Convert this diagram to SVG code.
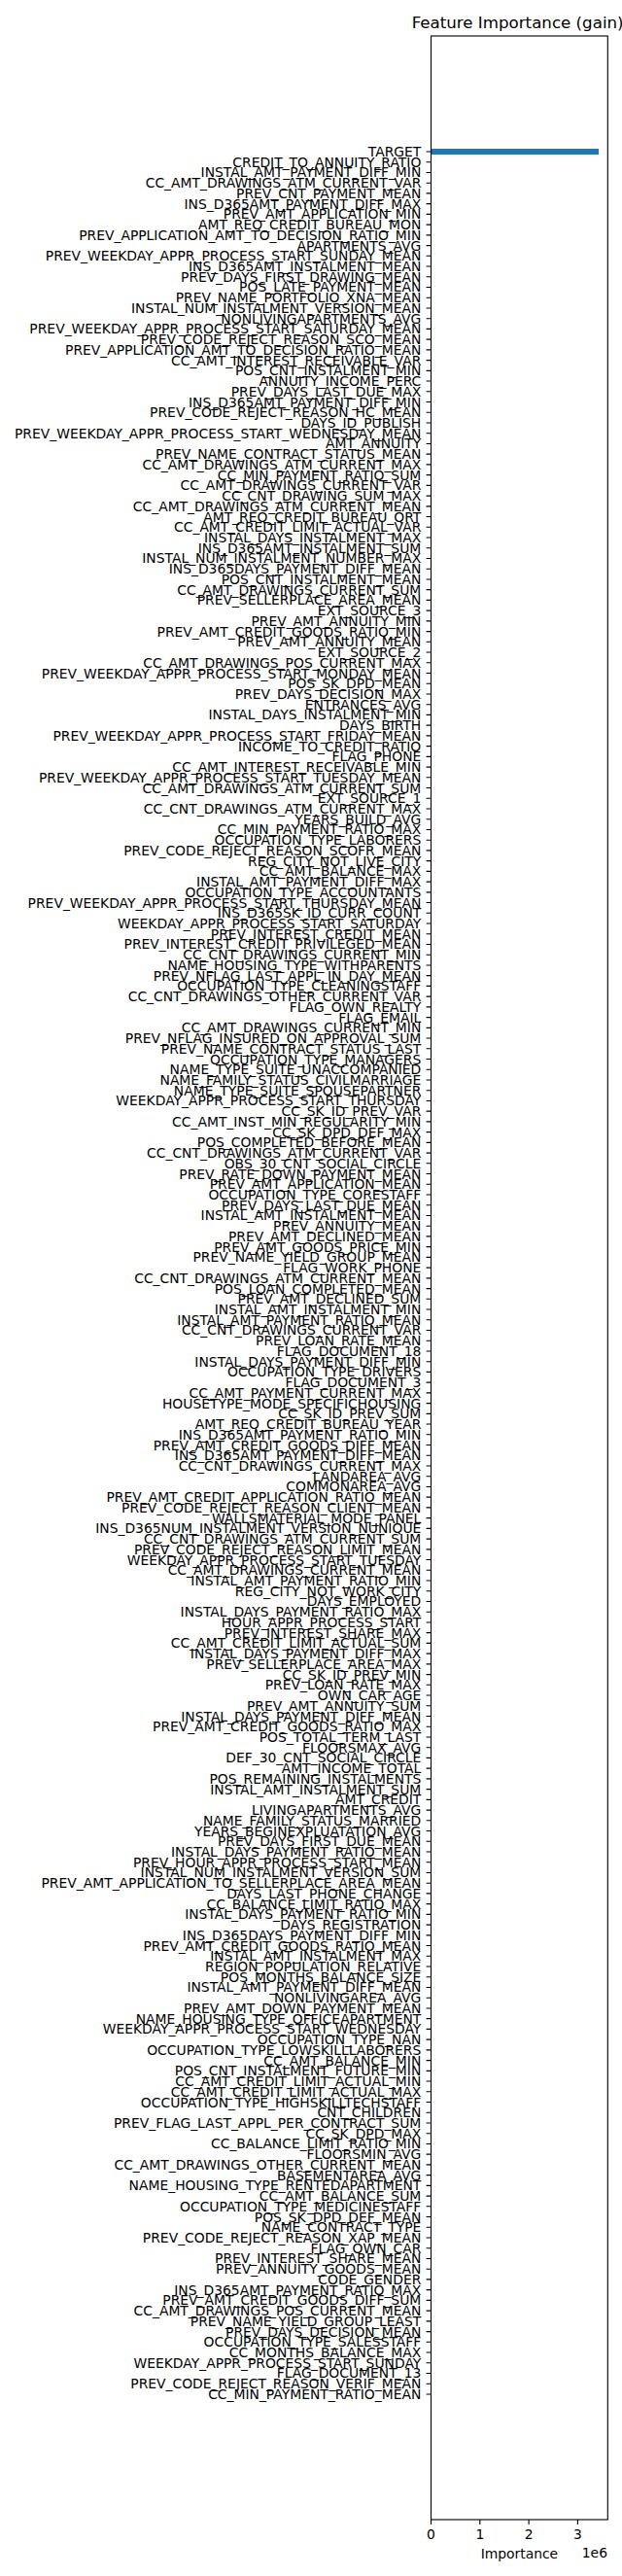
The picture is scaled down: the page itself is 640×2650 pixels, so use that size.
<svg xmlns="http://www.w3.org/2000/svg" width="640" height="2650" viewBox="0 0 640 2650">
<style>
text{font-family:"DejaVu Sans","Liberation Sans",sans-serif;fill:#000}
.yl{font-size:13.89px;text-anchor:end}
.xl{font-size:13.89px;text-anchor:middle}
.ttl{font-size:16.67px;text-anchor:middle}
.ax{fill:none;stroke:#000;stroke-width:1.11}
</style>
<rect width="640" height="2650" fill="#fff"/>
<g id="plot">
<rect id="bar-target" x="443.5" y="153" width="172.5" height="6" fill="#1f77b4"/>
<rect id="frame" class="ax" x="443.5" y="37" width="181.8" height="2555"/>
</g>
<text id="title" class="ttl" x="532.6" y="28.5">Feature Importance (gain)</text>
<g id="xaxis">
<path class="ax" d="M443.5,2592v4.9M493.8,2592v4.9M544.1,2592v4.9M594.4,2592v4.9"/>
<text class="xl" x="443.5" y="2612">0</text>
<text class="xl" x="493.8" y="2612">1</text>
<text class="xl" x="544.1" y="2612">2</text>
<text class="xl" x="594.4" y="2612">3</text>
<text class="xl" x="534.4" y="2632">Importance</text>
<text class="yl" x="625" y="2631">1e6</text>
</g>
<g id="yticks" transform="translate(0,156)">
<path class="ax" d="M438.6,0h4.9M438.6,10.73h4.9M438.6,21.46h4.9M438.6,32.19h4.9M438.6,42.92h4.9M438.6,53.65h4.9M438.6,64.38h4.9M438.6,75.11h4.9M438.6,85.84h4.9M438.6,96.57h4.9M438.6,107.3h4.9M438.6,118.03h4.9M438.6,128.76h4.9M438.6,139.49h4.9M438.6,150.22h4.9M438.6,160.95h4.9M438.6,171.68h4.9M438.6,182.41h4.9M438.6,193.14h4.9M438.6,203.87h4.9M438.6,214.6h4.9M438.6,225.33h4.9M438.6,236.06h4.9M438.6,246.79h4.9M438.6,257.52h4.9M438.6,268.25h4.9M438.6,278.98h4.9M438.6,289.71h4.9M438.6,300.44h4.9M438.6,311.17h4.9M438.6,321.9h4.9M438.6,332.63h4.9M438.6,343.36h4.9M438.6,354.09h4.9M438.6,364.82h4.9M438.6,375.55h4.9M438.6,386.28h4.9M438.6,397.01h4.9M438.6,407.74h4.9M438.6,418.47h4.9M438.6,429.2h4.9M438.6,439.93h4.9M438.6,450.66h4.9M438.6,461.39h4.9M438.6,472.12h4.9M438.6,482.85h4.9M438.6,493.58h4.9M438.6,504.31h4.9M438.6,515.04h4.9M438.6,525.77h4.9M438.6,536.5h4.9M438.6,547.23h4.9M438.6,557.96h4.9M438.6,568.69h4.9M438.6,579.42h4.9M438.6,590.15h4.9M438.6,600.88h4.9M438.6,611.61h4.9M438.6,622.34h4.9M438.6,633.07h4.9M438.6,643.8h4.9M438.6,654.53h4.9M438.6,665.26h4.9M438.6,675.99h4.9M438.6,686.72h4.9M438.6,697.45h4.9M438.6,708.18h4.9M438.6,718.91h4.9M438.6,729.64h4.9M438.6,740.37h4.9M438.6,751.1h4.9M438.6,761.83h4.9M438.6,772.56h4.9M438.6,783.29h4.9M438.6,794.02h4.9M438.6,804.75h4.9M438.6,815.48h4.9M438.6,826.21h4.9M438.6,836.94h4.9M438.6,847.67h4.9M438.6,858.4h4.9M438.6,869.13h4.9M438.6,879.86h4.9M438.6,890.59h4.9M438.6,901.32h4.9M438.6,912.05h4.9M438.6,922.78h4.9M438.6,933.51h4.9M438.6,944.24h4.9M438.6,954.97h4.9M438.6,965.7h4.9M438.6,976.43h4.9M438.6,987.16h4.9M438.6,997.89h4.9M438.6,1008.62h4.9M438.6,1019.35h4.9M438.6,1030.08h4.9M438.6,1040.81h4.9M438.6,1051.54h4.9M438.6,1062.27h4.9M438.6,1073h4.9M438.6,1083.73h4.9M438.6,1094.46h4.9M438.6,1105.19h4.9M438.6,1115.92h4.9M438.6,1126.65h4.9M438.6,1137.38h4.9M438.6,1148.11h4.9M438.6,1158.84h4.9M438.6,1169.57h4.9M438.6,1180.3h4.9M438.6,1191.03h4.9M438.6,1201.76h4.9M438.6,1212.49h4.9M438.6,1223.22h4.9M438.6,1233.95h4.9M438.6,1244.68h4.9M438.6,1255.41h4.9M438.6,1266.14h4.9M438.6,1276.87h4.9M438.6,1287.6h4.9M438.6,1298.33h4.9M438.6,1309.06h4.9M438.6,1319.79h4.9M438.6,1330.52h4.9M438.6,1341.25h4.9M438.6,1351.98h4.9M438.6,1362.71h4.9M438.6,1373.44h4.9M438.6,1384.17h4.9M438.6,1394.9h4.9M438.6,1405.63h4.9M438.6,1416.36h4.9M438.6,1427.09h4.9M438.6,1437.82h4.9M438.6,1448.55h4.9M438.6,1459.28h4.9M438.6,1470.01h4.9M438.6,1480.74h4.9M438.6,1491.47h4.9M438.6,1502.2h4.9M438.6,1512.93h4.9M438.6,1523.66h4.9M438.6,1534.39h4.9M438.6,1545.12h4.9M438.6,1555.85h4.9M438.6,1566.58h4.9M438.6,1577.31h4.9M438.6,1588.04h4.9M438.6,1598.77h4.9M438.6,1609.5h4.9M438.6,1620.23h4.9M438.6,1630.96h4.9M438.6,1641.69h4.9M438.6,1652.42h4.9M438.6,1663.15h4.9M438.6,1673.88h4.9M438.6,1684.61h4.9M438.6,1695.34h4.9M438.6,1706.07h4.9M438.6,1716.8h4.9M438.6,1727.53h4.9M438.6,1738.26h4.9M438.6,1748.99h4.9M438.6,1759.72h4.9M438.6,1770.45h4.9M438.6,1781.18h4.9M438.6,1791.91h4.9M438.6,1802.64h4.9M438.6,1813.37h4.9M438.6,1824.1h4.9M438.6,1834.83h4.9M438.6,1845.56h4.9M438.6,1856.29h4.9M438.6,1867.02h4.9M438.6,1877.75h4.9M438.6,1888.48h4.9M438.6,1899.21h4.9M438.6,1909.94h4.9M438.6,1920.67h4.9M438.6,1931.4h4.9M438.6,1942.13h4.9M438.6,1952.86h4.9M438.6,1963.59h4.9M438.6,1974.32h4.9M438.6,1985.05h4.9M438.6,1995.78h4.9M438.6,2006.51h4.9M438.6,2017.24h4.9M438.6,2027.97h4.9M438.6,2038.7h4.9M438.6,2049.43h4.9M438.6,2060.16h4.9M438.6,2070.89h4.9M438.6,2081.62h4.9M438.6,2092.35h4.9M438.6,2103.08h4.9M438.6,2113.81h4.9M438.6,2124.54h4.9M438.6,2135.27h4.9M438.6,2146h4.9M438.6,2156.73h4.9M438.6,2167.46h4.9M438.6,2178.19h4.9M438.6,2188.92h4.9M438.6,2199.65h4.9M438.6,2210.38h4.9M438.6,2221.11h4.9M438.6,2231.84h4.9M438.6,2242.57h4.9M438.6,2253.3h4.9M438.6,2264.03h4.9M438.6,2274.76h4.9M438.6,2285.49h4.9M438.6,2296.22h4.9M438.6,2306.95h4.9"/>
</g>
<g id="ylabels" transform="translate(433.3,161)">
<text class="yl" y="0">TARGET</text>
<text class="yl" y="10.73">CREDIT_TO_ANNUITY_RATIO</text>
<text class="yl" y="21.46">INSTAL_AMT_PAYMENT_DIFF_MIN</text>
<text class="yl" y="32.19">CC_AMT_DRAWINGS_ATM_CURRENT_VAR</text>
<text class="yl" y="42.92">PREV_CNT_PAYMENT_MEAN</text>
<text class="yl" y="53.65">INS_D365AMT_PAYMENT_DIFF_MAX</text>
<text class="yl" y="64.38">PREV_AMT_APPLICATION_MIN</text>
<text class="yl" y="75.11">AMT_REQ_CREDIT_BUREAU_MON</text>
<text class="yl" y="85.84">PREV_APPLICATION_AMT_TO_DECISION_RATIO_MIN</text>
<text class="yl" y="96.57">APARTMENTS_AVG</text>
<text class="yl" y="107.3">PREV_WEEKDAY_APPR_PROCESS_START_SUNDAY_MEAN</text>
<text class="yl" y="118.03">INS_D365AMT_INSTALMENT_MEAN</text>
<text class="yl" y="128.76">PREV_DAYS_FIRST_DRAWING_MEAN</text>
<text class="yl" y="139.49">POS_LATE_PAYMENT_MEAN</text>
<text class="yl" y="150.22">PREV_NAME_PORTFOLIO_XNA_MEAN</text>
<text class="yl" y="160.95">INSTAL_NUM_INSTALMENT_VERSION_MEAN</text>
<text class="yl" y="171.68">NONLIVINGAPARTMENTS_AVG</text>
<text class="yl" y="182.41">PREV_WEEKDAY_APPR_PROCESS_START_SATURDAY_MEAN</text>
<text class="yl" y="193.14">PREV_CODE_REJECT_REASON_SCO_MEAN</text>
<text class="yl" y="203.87">PREV_APPLICATION_AMT_TO_DECISION_RATIO_MEAN</text>
<text class="yl" y="214.6">CC_AMT_INTEREST_RECEIVABLE_VAR</text>
<text class="yl" y="225.33">POS_CNT_INSTALMENT_MIN</text>
<text class="yl" y="236.06">ANNUITY_INCOME_PERC</text>
<text class="yl" y="246.79">PREV_DAYS_LAST_DUE_MAX</text>
<text class="yl" y="257.52">INS_D365AMT_PAYMENT_DIFF_MIN</text>
<text class="yl" y="268.25">PREV_CODE_REJECT_REASON_HC_MEAN</text>
<text class="yl" y="278.98">DAYS_ID_PUBLISH</text>
<text class="yl" y="289.71">PREV_WEEKDAY_APPR_PROCESS_START_WEDNESDAY_MEAN</text>
<text class="yl" y="300.44">AMT_ANNUITY</text>
<text class="yl" y="311.17">PREV_NAME_CONTRACT_STATUS_MEAN</text>
<text class="yl" y="321.9">CC_AMT_DRAWINGS_ATM_CURRENT_MAX</text>
<text class="yl" y="332.63">CC_MIN_PAYMENT_RATIO_SUM</text>
<text class="yl" y="343.36">CC_AMT_DRAWINGS_CURRENT_VAR</text>
<text class="yl" y="354.09">CC_CNT_DRAWING_SUM_MAX</text>
<text class="yl" y="364.82">CC_AMT_DRAWINGS_ATM_CURRENT_MEAN</text>
<text class="yl" y="375.55">AMT_REQ_CREDIT_BUREAU_QRT</text>
<text class="yl" y="386.28">CC_AMT_CREDIT_LIMIT_ACTUAL_VAR</text>
<text class="yl" y="397.01">INSTAL_DAYS_INSTALMENT_MAX</text>
<text class="yl" y="407.74">INS_D365AMT_INSTALMENT_SUM</text>
<text class="yl" y="418.47">INSTAL_NUM_INSTALMENT_NUMBER_MAX</text>
<text class="yl" y="429.2">INS_D365DAYS_PAYMENT_DIFF_MEAN</text>
<text class="yl" y="439.93">POS_CNT_INSTALMENT_MEAN</text>
<text class="yl" y="450.66">CC_AMT_DRAWINGS_CURRENT_SUM</text>
<text class="yl" y="461.39">PREV_SELLERPLACE_AREA_MEAN</text>
<text class="yl" y="472.12">EXT_SOURCE_3</text>
<text class="yl" y="482.85">PREV_AMT_ANNUITY_MIN</text>
<text class="yl" y="493.58">PREV_AMT_CREDIT_GOODS_RATIO_MIN</text>
<text class="yl" y="504.31">PREV_AMT_ANNUITY_MEAN</text>
<text class="yl" y="515.04">EXT_SOURCE_2</text>
<text class="yl" y="525.77">CC_AMT_DRAWINGS_POS_CURRENT_MAX</text>
<text class="yl" y="536.5">PREV_WEEKDAY_APPR_PROCESS_START_MONDAY_MEAN</text>
<text class="yl" y="547.23">POS_SK_DPD_MEAN</text>
<text class="yl" y="557.96">PREV_DAYS_DECISION_MAX</text>
<text class="yl" y="568.69">ENTRANCES_AVG</text>
<text class="yl" y="579.42">INSTAL_DAYS_INSTALMENT_MIN</text>
<text class="yl" y="590.15">DAYS_BIRTH</text>
<text class="yl" y="600.88">PREV_WEEKDAY_APPR_PROCESS_START_FRIDAY_MEAN</text>
<text class="yl" y="611.61">INCOME_TO_CREDIT_RATIO</text>
<text class="yl" y="622.34">FLAG_PHONE</text>
<text class="yl" y="633.07">CC_AMT_INTEREST_RECEIVABLE_MIN</text>
<text class="yl" y="643.8">PREV_WEEKDAY_APPR_PROCESS_START_TUESDAY_MEAN</text>
<text class="yl" y="654.53">CC_AMT_DRAWINGS_ATM_CURRENT_SUM</text>
<text class="yl" y="665.26">EXT_SOURCE_1</text>
<text class="yl" y="675.99">CC_CNT_DRAWINGS_ATM_CURRENT_MAX</text>
<text class="yl" y="686.72">YEARS_BUILD_AVG</text>
<text class="yl" y="697.45">CC_MIN_PAYMENT_RATIO_MAX</text>
<text class="yl" y="708.18">OCCUPATION_TYPE_LABORERS</text>
<text class="yl" y="718.91">PREV_CODE_REJECT_REASON_SCOFR_MEAN</text>
<text class="yl" y="729.64">REG_CITY_NOT_LIVE_CITY</text>
<text class="yl" y="740.37">CC_AMT_BALANCE_MAX</text>
<text class="yl" y="751.1">INSTAL_AMT_PAYMENT_DIFF_MAX</text>
<text class="yl" y="761.83">OCCUPATION_TYPE_ACCOUNTANTS</text>
<text class="yl" y="772.56">PREV_WEEKDAY_APPR_PROCESS_START_THURSDAY_MEAN</text>
<text class="yl" y="783.29">INS_D365SK_ID_CURR_COUNT</text>
<text class="yl" y="794.02">WEEKDAY_APPR_PROCESS_START_SATURDAY</text>
<text class="yl" y="804.75">PREV_INTEREST_CREDIT_MEAN</text>
<text class="yl" y="815.48">PREV_INTEREST_CREDIT_PRIVILEGED_MEAN</text>
<text class="yl" y="826.21">CC_CNT_DRAWINGS_CURRENT_MIN</text>
<text class="yl" y="836.94">NAME_HOUSING_TYPE_WITHPARENTS</text>
<text class="yl" y="847.67">PREV_NFLAG_LAST_APPL_IN_DAY_MEAN</text>
<text class="yl" y="858.4">OCCUPATION_TYPE_CLEANINGSTAFF</text>
<text class="yl" y="869.13">CC_CNT_DRAWINGS_OTHER_CURRENT_VAR</text>
<text class="yl" y="879.86">FLAG_OWN_REALTY</text>
<text class="yl" y="890.59">FLAG_EMAIL</text>
<text class="yl" y="901.32">CC_AMT_DRAWINGS_CURRENT_MIN</text>
<text class="yl" y="912.05">PREV_NFLAG_INSURED_ON_APPROVAL_SUM</text>
<text class="yl" y="922.78">PREV_NAME_CONTRACT_STATUS_LAST</text>
<text class="yl" y="933.51">OCCUPATION_TYPE_MANAGERS</text>
<text class="yl" y="944.24">NAME_TYPE_SUITE_UNACCOMPANIED</text>
<text class="yl" y="954.97">NAME_FAMILY_STATUS_CIVILMARRIAGE</text>
<text class="yl" y="965.7">NAME_TYPE_SUITE_SPOUSEPARTNER</text>
<text class="yl" y="976.43">WEEKDAY_APPR_PROCESS_START_THURSDAY</text>
<text class="yl" y="987.16">CC_SK_ID_PREV_VAR</text>
<text class="yl" y="997.89">CC_AMT_INST_MIN_REGULARITY_MIN</text>
<text class="yl" y="1008.62">CC_SK_DPD_DEF_MAX</text>
<text class="yl" y="1019.35">POS_COMPLETED_BEFORE_MEAN</text>
<text class="yl" y="1030.08">CC_CNT_DRAWINGS_ATM_CURRENT_VAR</text>
<text class="yl" y="1040.81">OBS_30_CNT_SOCIAL_CIRCLE</text>
<text class="yl" y="1051.54">PREV_RATE_DOWN_PAYMENT_MEAN</text>
<text class="yl" y="1062.27">PREV_AMT_APPLICATION_MEAN</text>
<text class="yl" y="1073">OCCUPATION_TYPE_CORESTAFF</text>
<text class="yl" y="1083.73">PREV_DAYS_LAST_DUE_MEAN</text>
<text class="yl" y="1094.46">INSTAL_AMT_INSTALMENT_MEAN</text>
<text class="yl" y="1105.19">PREV_ANNUITY_MEAN</text>
<text class="yl" y="1115.92">PREV_AMT_DECLINED_MEAN</text>
<text class="yl" y="1126.65">PREV_AMT_GOODS_PRICE_MIN</text>
<text class="yl" y="1137.38">PREV_NAME_YIELD_GROUP_MEAN</text>
<text class="yl" y="1148.11">FLAG_WORK_PHONE</text>
<text class="yl" y="1158.84">CC_CNT_DRAWINGS_ATM_CURRENT_MEAN</text>
<text class="yl" y="1169.57">POS_LOAN_COMPLETED_MEAN</text>
<text class="yl" y="1180.3">PREV_AMT_DECLINED_SUM</text>
<text class="yl" y="1191.03">INSTAL_AMT_INSTALMENT_MIN</text>
<text class="yl" y="1201.76">INSTAL_AMT_PAYMENT_RATIO_MEAN</text>
<text class="yl" y="1212.49">CC_CNT_DRAWINGS_CURRENT_VAR</text>
<text class="yl" y="1223.22">PREV_LOAN_RATE_MEAN</text>
<text class="yl" y="1233.95">FLAG_DOCUMENT_18</text>
<text class="yl" y="1244.68">INSTAL_DAYS_PAYMENT_DIFF_MIN</text>
<text class="yl" y="1255.41">OCCUPATION_TYPE_DRIVERS</text>
<text class="yl" y="1266.14">FLAG_DOCUMENT_3</text>
<text class="yl" y="1276.87">CC_AMT_PAYMENT_CURRENT_MAX</text>
<text class="yl" y="1287.6">HOUSETYPE_MODE_SPECIFICHOUSING</text>
<text class="yl" y="1298.33">CC_SK_ID_PREV_SUM</text>
<text class="yl" y="1309.06">AMT_REQ_CREDIT_BUREAU_YEAR</text>
<text class="yl" y="1319.79">INS_D365AMT_PAYMENT_RATIO_MIN</text>
<text class="yl" y="1330.52">PREV_AMT_CREDIT_GOODS_DIFF_MEAN</text>
<text class="yl" y="1341.25">INS_D365AMT_PAYMENT_DIFF_MEAN</text>
<text class="yl" y="1351.98">CC_CNT_DRAWINGS_CURRENT_MAX</text>
<text class="yl" y="1362.71">LANDAREA_AVG</text>
<text class="yl" y="1373.44">COMMONAREA_AVG</text>
<text class="yl" y="1384.17">PREV_AMT_CREDIT_APPLICATION_RATIO_MEAN</text>
<text class="yl" y="1394.9">PREV_CODE_REJECT_REASON_CLIENT_MEAN</text>
<text class="yl" y="1405.63">WALLSMATERIAL_MODE_PANEL</text>
<text class="yl" y="1416.36">INS_D365NUM_INSTALMENT_VERSION_NUNIQUE</text>
<text class="yl" y="1427.09">CC_CNT_DRAWINGS_ATM_CURRENT_SUM</text>
<text class="yl" y="1437.82">PREV_CODE_REJECT_REASON_LIMIT_MEAN</text>
<text class="yl" y="1448.55">WEEKDAY_APPR_PROCESS_START_TUESDAY</text>
<text class="yl" y="1459.28">CC_AMT_DRAWINGS_CURRENT_MEAN</text>
<text class="yl" y="1470.01">INSTAL_AMT_PAYMENT_RATIO_MIN</text>
<text class="yl" y="1480.74">REG_CITY_NOT_WORK_CITY</text>
<text class="yl" y="1491.47">DAYS_EMPLOYED</text>
<text class="yl" y="1502.2">INSTAL_DAYS_PAYMENT_RATIO_MAX</text>
<text class="yl" y="1512.93">HOUR_APPR_PROCESS_START</text>
<text class="yl" y="1523.66">PREV_INTEREST_SHARE_MAX</text>
<text class="yl" y="1534.39">CC_AMT_CREDIT_LIMIT_ACTUAL_SUM</text>
<text class="yl" y="1545.12">INSTAL_DAYS_PAYMENT_DIFF_MAX</text>
<text class="yl" y="1555.85">PREV_SELLERPLACE_AREA_MAX</text>
<text class="yl" y="1566.58">CC_SK_ID_PREV_MIN</text>
<text class="yl" y="1577.31">PREV_LOAN_RATE_MAX</text>
<text class="yl" y="1588.04">OWN_CAR_AGE</text>
<text class="yl" y="1598.77">PREV_AMT_ANNUITY_SUM</text>
<text class="yl" y="1609.5">INSTAL_DAYS_PAYMENT_DIFF_MEAN</text>
<text class="yl" y="1620.23">PREV_AMT_CREDIT_GOODS_RATIO_MAX</text>
<text class="yl" y="1630.96">POS_TOTAL_TERM_LAST</text>
<text class="yl" y="1641.69">FLOORSMAX_AVG</text>
<text class="yl" y="1652.42">DEF_30_CNT_SOCIAL_CIRCLE</text>
<text class="yl" y="1663.15">AMT_INCOME_TOTAL</text>
<text class="yl" y="1673.88">POS_REMAINING_INSTALMENTS</text>
<text class="yl" y="1684.61">INSTAL_AMT_INSTALMENT_SUM</text>
<text class="yl" y="1695.34">AMT_CREDIT</text>
<text class="yl" y="1706.07">LIVINGAPARTMENTS_AVG</text>
<text class="yl" y="1716.8">NAME_FAMILY_STATUS_MARRIED</text>
<text class="yl" y="1727.53">YEARS_BEGINEXPLUATATION_AVG</text>
<text class="yl" y="1738.26">PREV_DAYS_FIRST_DUE_MEAN</text>
<text class="yl" y="1748.99">INSTAL_DAYS_PAYMENT_RATIO_MEAN</text>
<text class="yl" y="1759.72">PREV_HOUR_APPR_PROCESS_START_MEAN</text>
<text class="yl" y="1770.45">INSTAL_NUM_INSTALMENT_VERSION_SUM</text>
<text class="yl" y="1781.18">PREV_AMT_APPLICATION_TO_SELLERPLACE_AREA_MEAN</text>
<text class="yl" y="1791.91">DAYS_LAST_PHONE_CHANGE</text>
<text class="yl" y="1802.64">CC_BALANCE_LIMIT_RATIO_MAX</text>
<text class="yl" y="1813.37">INSTAL_DAYS_PAYMENT_RATIO_MIN</text>
<text class="yl" y="1824.1">DAYS_REGISTRATION</text>
<text class="yl" y="1834.83">INS_D365DAYS_PAYMENT_DIFF_MIN</text>
<text class="yl" y="1845.56">PREV_AMT_CREDIT_GOODS_RATIO_MEAN</text>
<text class="yl" y="1856.29">INSTAL_AMT_INSTALMENT_MAX</text>
<text class="yl" y="1867.02">REGION_POPULATION_RELATIVE</text>
<text class="yl" y="1877.75">POS_MONTHS_BALANCE_SIZE</text>
<text class="yl" y="1888.48">INSTAL_AMT_PAYMENT_DIFF_MEAN</text>
<text class="yl" y="1899.21">NONLIVINGAREA_AVG</text>
<text class="yl" y="1909.94">PREV_AMT_DOWN_PAYMENT_MEAN</text>
<text class="yl" y="1920.67">NAME_HOUSING_TYPE_OFFICEAPARTMENT</text>
<text class="yl" y="1931.4">WEEKDAY_APPR_PROCESS_START_WEDNESDAY</text>
<text class="yl" y="1942.13">OCCUPATION_TYPE_NAN</text>
<text class="yl" y="1952.86">OCCUPATION_TYPE_LOWSKILLLABORERS</text>
<text class="yl" y="1963.59">CC_AMT_BALANCE_MIN</text>
<text class="yl" y="1974.32">POS_CNT_INSTALMENT_FUTURE_MIN</text>
<text class="yl" y="1985.05">CC_AMT_CREDIT_LIMIT_ACTUAL_MIN</text>
<text class="yl" y="1995.78">CC_AMT_CREDIT_LIMIT_ACTUAL_MAX</text>
<text class="yl" y="2006.51">OCCUPATION_TYPE_HIGHSKILLTECHSTAFF</text>
<text class="yl" y="2017.24">CNT_CHILDREN</text>
<text class="yl" y="2027.97">PREV_FLAG_LAST_APPL_PER_CONTRACT_SUM</text>
<text class="yl" y="2038.7">CC_SK_DPD_MAX</text>
<text class="yl" y="2049.43">CC_BALANCE_LIMIT_RATIO_MIN</text>
<text class="yl" y="2060.16">FLOORSMIN_AVG</text>
<text class="yl" y="2070.89">CC_AMT_DRAWINGS_OTHER_CURRENT_MEAN</text>
<text class="yl" y="2081.62">BASEMENTAREA_AVG</text>
<text class="yl" y="2092.35">NAME_HOUSING_TYPE_RENTEDAPARTMENT</text>
<text class="yl" y="2103.08">CC_AMT_BALANCE_SUM</text>
<text class="yl" y="2113.81">OCCUPATION_TYPE_MEDICINESTAFF</text>
<text class="yl" y="2124.54">POS_SK_DPD_DEF_MEAN</text>
<text class="yl" y="2135.27">NAME_CONTRACT_TYPE</text>
<text class="yl" y="2146">PREV_CODE_REJECT_REASON_XAP_MEAN</text>
<text class="yl" y="2156.73">FLAG_OWN_CAR</text>
<text class="yl" y="2167.46">PREV_INTEREST_SHARE_MEAN</text>
<text class="yl" y="2178.19">PREV_ANNUITY_GOODS_MEAN</text>
<text class="yl" y="2188.92">CODE_GENDER</text>
<text class="yl" y="2199.65">INS_D365AMT_PAYMENT_RATIO_MAX</text>
<text class="yl" y="2210.38">PREV_AMT_CREDIT_GOODS_DIFF_SUM</text>
<text class="yl" y="2221.11">CC_AMT_DRAWINGS_POS_CURRENT_MEAN</text>
<text class="yl" y="2231.84">PREV_NAME_YIELD_GROUP_LEAST</text>
<text class="yl" y="2242.57">PREV_DAYS_DECISION_MEAN</text>
<text class="yl" y="2253.3">OCCUPATION_TYPE_SALESSTAFF</text>
<text class="yl" y="2264.03">CC_MONTHS_BALANCE_MAX</text>
<text class="yl" y="2274.76">WEEKDAY_APPR_PROCESS_START_SUNDAY</text>
<text class="yl" y="2285.49">FLAG_DOCUMENT_13</text>
<text class="yl" y="2296.22">PREV_CODE_REJECT_REASON_VERIF_MEAN</text>
<text class="yl" y="2306.95">CC_MIN_PAYMENT_RATIO_MEAN</text>
</g>
</svg>
